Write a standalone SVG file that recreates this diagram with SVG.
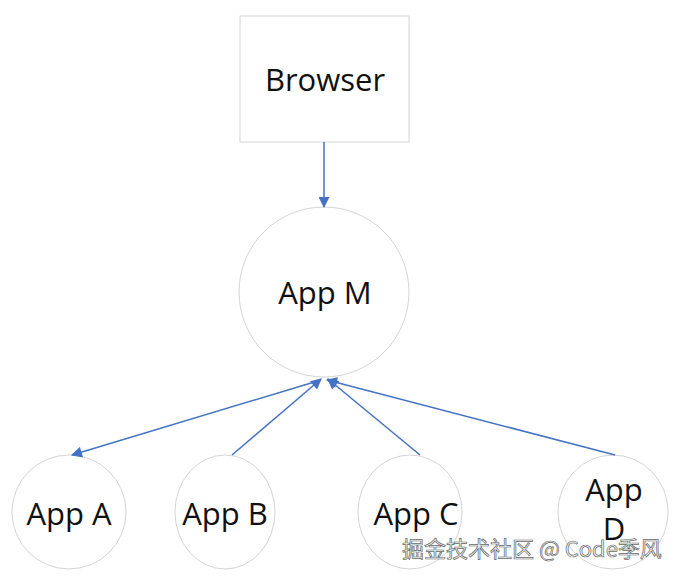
<svg xmlns="http://www.w3.org/2000/svg" width="682" height="580" viewBox="0 0 682 580">
<style>
.shape{fill:#fff;stroke:#d4d4d4;stroke-width:1}
.lbl{font-family:"Open Sans","Noto Sans",sans-serif;font-size:31px;fill:#111;text-anchor:middle}
.con{stroke:#4472c4;stroke-width:1.5;fill:none}
.wm{font-family:"Noto Sans CJK SC",sans-serif;font-size:22px;fill:#f4f4f4;stroke:#6a6a6a;stroke-width:0.7}
</style>
<defs>
<marker id="ah" viewBox="0 0 10 10" refX="9" refY="5" markerWidth="12" markerHeight="11" markerUnits="userSpaceOnUse" orient="auto">
<path d="M0,0 L10,5 L0,10 z" fill="#4472c4"/>
</marker>
</defs>
<rect width="682" height="580" fill="#fff"/>
<g id="browser"><rect class="shape" x="240" y="16" width="169" height="126"/><text class="lbl" x="325" y="91">Browser</text></g>
<g id="appM"><circle class="shape" cx="324" cy="292" r="85"/><text class="lbl" x="325" y="304">App M</text></g>
<g id="appA"><ellipse class="shape" cx="69" cy="512" rx="57" ry="57"/><text class="lbl" x="69" y="525">App A</text></g>
<g id="appB"><ellipse class="shape" cx="225" cy="512" rx="50" ry="57"/><text class="lbl" x="225" y="525">App B</text></g>
<g id="appC"><ellipse class="shape" cx="410" cy="512" rx="52" ry="57"/><text class="lbl" x="416" y="525">App C</text></g>
<g id="appD"><ellipse class="shape" cx="613" cy="512" rx="55" ry="57"/><text class="lbl" x="614" y="501">App</text><text class="lbl" x="614" y="540">D</text></g>
<g id="connectors">
<line class="con" x1="321" y1="380" x2="72" y2="455" marker-end="url(#ah)"/>
<line class="con" x1="324" y1="142" x2="324" y2="207" marker-end="url(#ah)"/>
<line class="con" x1="232" y1="455" x2="321" y2="379" marker-end="url(#ah)"/>
<line class="con" x1="420" y1="455" x2="328" y2="379" marker-end="url(#ah)"/>
<line class="con" x1="615" y1="455" x2="327" y2="380" marker-end="url(#ah)"/>
</g>
<text class="wm" x="402" y="557">掘金技术社区 @ Code季风</text>
</svg>
